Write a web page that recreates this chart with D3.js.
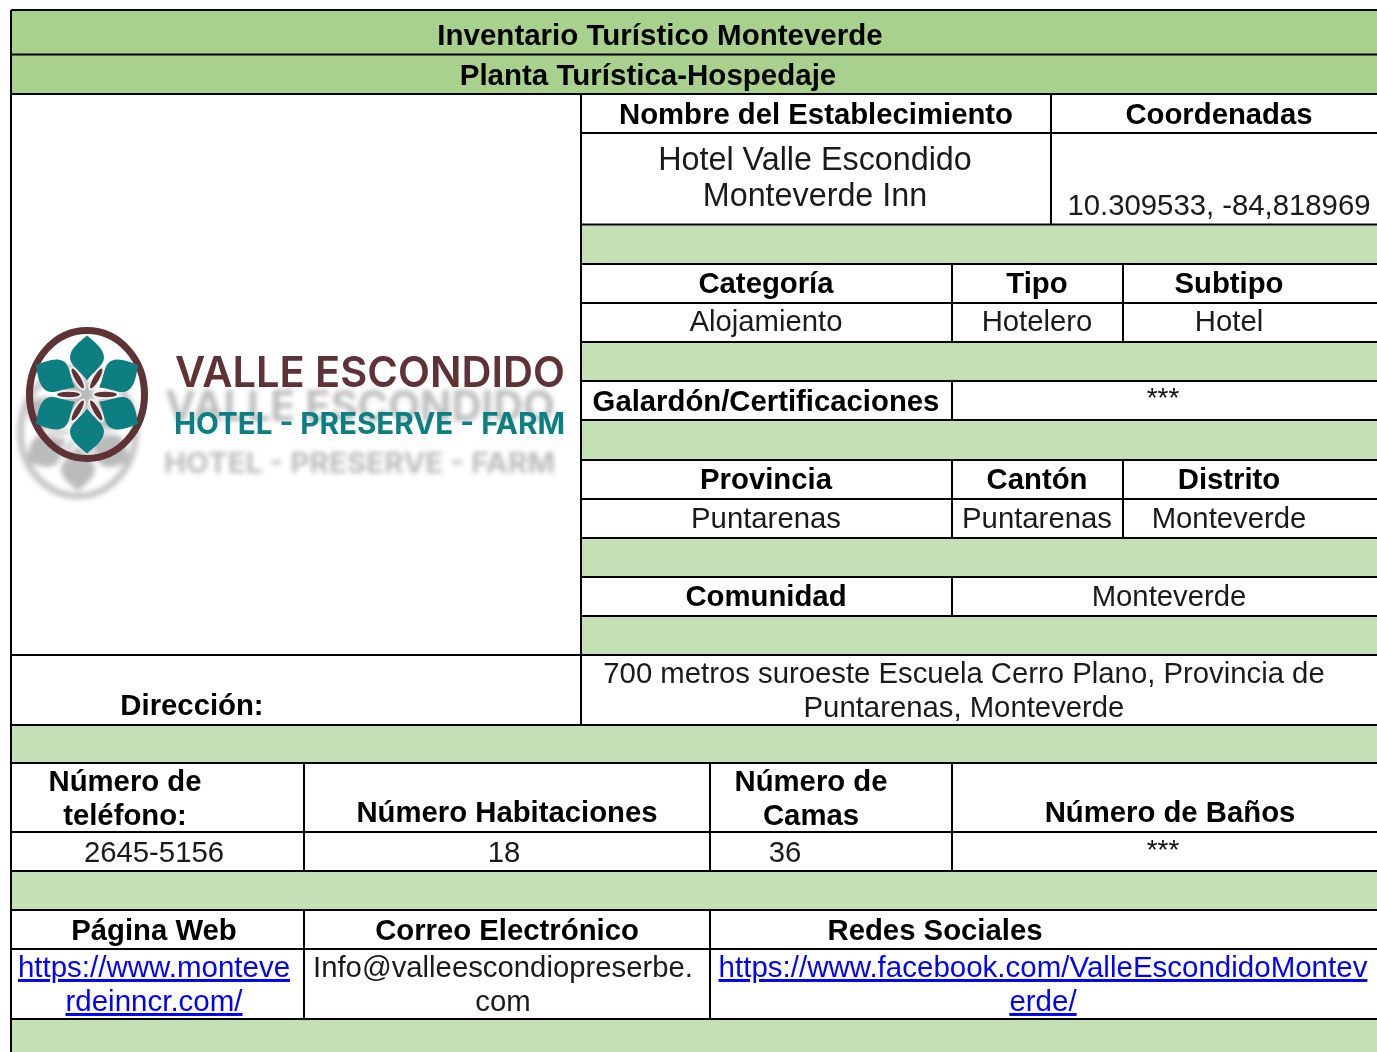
<!DOCTYPE html>
<html>
<head>
<meta charset="utf-8">
<script src="https://cdn.jsdelivr.net/npm/d3@7"></script>
<style>
  html, body { margin: 0; padding: 0; background: #fff; overflow: hidden; }
  svg { display: block; }
  text { font-family: "Liberation Sans", Arial, sans-serif; }
</style>
</head>
<body>
<div id="table"></div>
<script>
// table content
const titles = ["Inventario Turístico Monteverde", "Planta Turística-Hospedaje"];
const headers = ["Nombre del Establecimiento", "Coordenadas", "Categoría", "Tipo", "Subtipo",
  "Galardón/Certificaciones", "Provincia", "Cantón", "Distrito", "Comunidad", "Dirección:",
  "Número de", "teléfono:", "Número Habitaciones", "Número de", "Camas", "Número de Baños",
  "Página Web", "Correo Electrónico", "Redes Sociales"];
const headerPos = [[816, 124], [1219, 124], [766, 293], [1037, 293], [1229, 293],
  [766, 411], [766, 489], [1037, 489], [1229, 489], [766, 606], [192, 715],
  [125, 791], [125, 825], [507, 822], [811, 791], [811, 825], [1170, 822],
  [154, 940], [507, 940], [935, 940]];
const values = ["Alojamiento", "Hotelero", "Hotel", "Puntarenas", "Puntarenas", "Monteverde",
  "Monteverde", "700 metros suroeste Escuela Cerro Plano, Provincia de", "Puntarenas, Monteverde",
  "2645-5156", "18", "36", "Info@valleescondiopreserbe.", "com"];
const valuePos = [[766, 331], [1037, 331], [1229, 331], [766, 528], [1037, 528], [1229, 528],
  [1169, 606], [964, 683], [964, 717],
  [154, 862], [504, 862], [785, 862], [503, 977], [503, 1011]];
const unknowns = ["***", "***"];
const unknownPos = [[1163, 407], [1163, 859]];
const establishment = ["Hotel Valle Escondido", "Monteverde Inn"];
const coordinates = "10.309533, -84,818969";
const links = ["https://www.monteve", "rdeinncr.com/", "https://www.facebook.com/ValleEscondidoMontev", "erde/"];
const linkPos = [[154, 977], [154, 1011], [1043, 977], [1043, 1011]];

// grid: horizontal rules, then the vertical rules with the rows they span
const strongBands = [[10, 54.5], [54.5, 94]];
const paleBands = [[224.5, 264], [342, 381], [420, 460], [538, 577], [616, 655], [725, 763], [871, 910], [1019, 1052]];
const verticals = [[11, 10, 1052], [581, 94, 725], [1051, 94, 224], [952, 264, 342], [1123, 264, 342],
  [952, 381, 420], [952, 460, 538], [1123, 460, 538], [952, 577, 616],
  [304, 763, 871], [710, 763, 871], [952, 763, 871], [304, 910, 1019], [710, 910, 1019]];
const rightPartial = { left: 581, rows: [133, 224.5, 264, 303, 342, 381, 420, 460, 499, 538, 577, 616] };
const fullRows = [10, 54.5, 94, 655, 725, 763, 832, 871, 910, 949, 1019];

const W = 1377, H = 1052;
const svg = d3.select("#table").append("svg").attr("width", W).attr("height", H);
const defs = svg.append("defs");
defs.append("filter").attr("id", "ghost").attr("x", "-20%").attr("y", "-20%").attr("width", "140%").attr("height", "140%")
  .append("feGaussianBlur").attr("stdDeviation", 2.8);
defs.append("filter").attr("id", "soft").attr("x", "-5%").attr("y", "-5%").attr("width", "110%").attr("height", "110%")
  .append("feGaussianBlur").attr("stdDeviation", 0.5);

// background bands
svg.append("g").selectAll("rect").data(strongBands).join("rect")
  .attr("x", 11).attr("y", d => d[0]).attr("width", W - 11).attr("height", d => d[1] - d[0]).attr("fill", "#a9d18e");
svg.append("g").selectAll("rect").data(paleBands).join("rect")
  .attr("x", d => (d[0] < 655 ? 581 : 11)).attr("y", d => d[0])
  .attr("width", d => W - (d[0] < 655 ? 581 : 11)).attr("height", d => d[1] - d[0]).attr("fill", "#c5e0b4");

// logo
function drawMark(g, ring, petal, seed, halo) {
  g.append("ellipse").attr("rx", 57.5).attr("ry", 64).attr("fill", "none").attr("stroke", ring).attr("stroke-width", 7);
  g.append("g").selectAll("path").data(d3.range(0, 360, 60)).join("path")
    .attr("d", "M0,-59 C7,-53 17,-46 17,-37 C17,-29 7,-24 0,-14 C-7,-24 -17,-29 -17,-37 C-17,-46 -7,-53 0,-59 Z")
    .attr("fill", petal)
    .attr("transform", d => `rotate(${d})`);
  g.append("g").selectAll("ellipse").data(d3.range(30, 390, 60)).join("ellipse")
    .attr("cx", 0).attr("cy", -18.5).attr("rx", 2.8).attr("ry", 11.5).attr("fill", seed)
    .attr("stroke", halo).attr("stroke-width", 3.5).attr("paint-order", "stroke")
    .attr("transform", d => `rotate(${d})`);
}
const logoFont = "Inter";
const logo = svg.append("g");
const ghost = logo.append("g").attr("filter", "url(#ghost)").attr("opacity", 0.5);
drawMark(ghost.append("g").attr("transform", "translate(78,432)"), "#8d8d8d", "#777", "#999", "none");
ghost.append("text").text("VALLE ESCONDIDO").attr("x", 165).attr("y", 421)
  .attr("textLength", 390).attr("lengthAdjust", "spacingAndGlyphs")
  .style("font-family", logoFont).attr("font-weight", 700).attr("font-size", 42).attr("fill", "#777");
ghost.append("text").text("HOTEL - PRESERVE - FARM").attr("x", 164).attr("y", 473)
  .attr("textLength", 391).attr("lengthAdjust", "spacingAndGlyphs")
  .style("font-family", logoFont).attr("font-weight", 700).attr("font-size", 29).attr("fill", "#777");
const front = logo.append("g").attr("filter", "url(#soft)");
drawMark(front.append("g").attr("transform", "translate(87,394.5)"), "#5e3036", "#0f7f83", "#5e3036", "#f2f2f2");
front.append("text").text("VALLE ESCONDIDO").attr("x", 175).attr("y", 387)
  .attr("textLength", 390).attr("lengthAdjust", "spacingAndGlyphs")
  .style("font-family", logoFont).attr("font-weight", 600).attr("font-size", 43).attr("fill", "#5e3036");
front.append("text").text("HOTEL - PRESERVE - FARM").attr("x", 174).attr("y", 434)
  .attr("textLength", 391).attr("lengthAdjust", "spacingAndGlyphs")
  .style("font-family", logoFont).attr("font-weight", 700).attr("font-size", 29.5).attr("fill", "#0f7f83");

// rules
const rules = svg.append("g").attr("stroke", "#000").attr("stroke-width", 2);
rules.selectAll(".full").data(fullRows).join("line").attr("class", "full")
  .attr("x1", 11).attr("x2", W).attr("y1", d => d).attr("y2", d => d);
rules.selectAll(".part").data(rightPartial.rows).join("line").attr("class", "part")
  .attr("x1", rightPartial.left).attr("x2", W).attr("y1", d => d).attr("y2", d => d);
rules.selectAll(".vert").data(verticals).join("line").attr("class", "vert")
  .attr("x1", d => d[0]).attr("x2", d => d[0]).attr("y1", d => d[1]).attr("y2", d => d[2]);

// text
function put(list, pos, opts) {
  svg.append("g").selectAll("text").data(list).join("text")
    .text(d => d)
    .attr("x", (d, i) => pos[i][0]).attr("y", (d, i) => pos[i][1])
    .attr("text-anchor", "middle")
    .attr("font-size", opts.size).attr("font-weight", opts.weight).attr("fill", opts.fill)
    .attr("text-decoration", opts.deco || null);
}
put(titles, [[660, 45], [648, 85]], { size: 29.5, weight: 700, fill: "#000" });
put(headers, headerPos, { size: 29.3, weight: 700, fill: "#000" });
put(values, valuePos, { size: 29.3, weight: 400, fill: "#1a1a1a" });
put(unknowns, unknownPos, { size: 28, weight: 400, fill: "#111" });
put(establishment, [[815, 170], [815, 206]], { size: 32.3, weight: 400, fill: "#1a1a1a" });
put([coordinates], [[1219, 215]], { size: 29.3, weight: 400, fill: "#1a1a1a" });
put(links, linkPos, { size: 29.5, weight: 400, fill: "#0000ff", deco: "underline" });
</script>
</body>
</html>
